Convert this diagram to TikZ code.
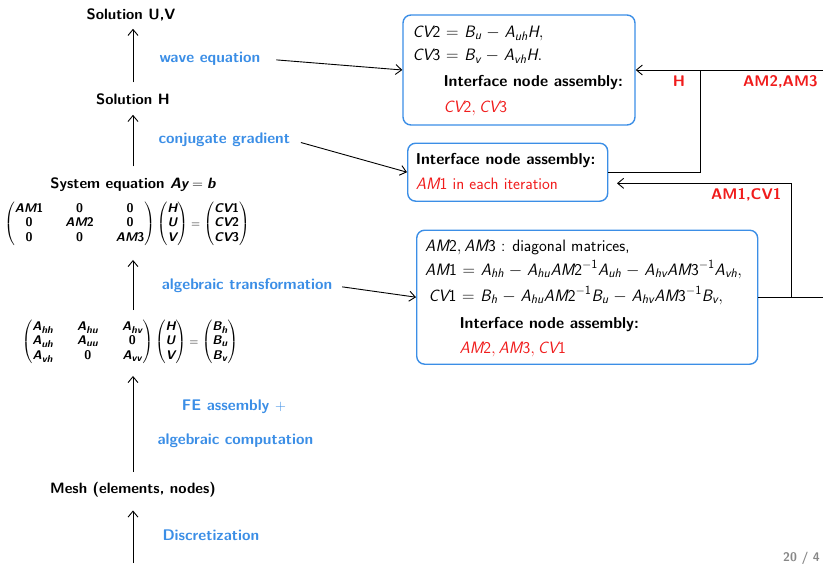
\documentclass[tikz,border=0pt]{standalone}
\usepackage{amsmath}
\usetikzlibrary{arrows.meta}
\definecolor{myblue}{RGB}{59,142,230}
\definecolor{myred}{RGB}{240,28,28}
\definecolor{mygray}{RGB}{135,135,135}
\DeclareMathSizes{16.5}{16.5}{12.5}{9.5}
\DeclareMathSizes{12.6}{12.6}{10}{8}
\newcommand\si[1]{\text{\sffamily\itshape #1}}
\newcommand\su[1]{\text{\sffamily\upshape #1}}
\newcommand\widemath{\thickmuskip=6mu plus 2mu\medmuskip=5mu plus 2mu minus 4mu}
\tikzset{
  lbl/.style={font=\fontsize{15}{18}\selectfont\sffamily\bfseries, inner sep=0pt, anchor=base},
  blab/.style={font=\fontsize{15.4}{18}\selectfont\sffamily\bfseries, text=myblue, inner sep=0pt, anchor=base west},
  mat/.style={font=\fontsize{12.6}{14.5}\selectfont\sffamily\bfseries, inner sep=0pt},
  arr/.style={-{Straight Barb[length=6pt,width=10pt]}, line width=0.9pt},
  conn/.style={line width=0.9pt},
  box/.style={draw=myblue, line width=1.4pt, rounded corners=8pt, inner sep=0pt},
  btxt/.style={font=\fontsize{16.5}{19}\selectfont\sffamily\widemath, anchor=base west, inner sep=0pt},
  bbold/.style={btxt, font=\fontsize{15.8}{18}\selectfont\sffamily\bfseries},
  rtxt/.style={btxt, text=myred},
  rlab/.style={font=\fontsize{15.4}{18}\selectfont\sffamily\bfseries, text=myred, anchor=base west, inner sep=0pt},
}
\begin{document}
\begin{tikzpicture}[x=1pt,y=-1pt]
\useasboundingbox (0,0) rectangle (823,563);
% left column
\node[lbl] (suv) at (131,19) {Solution U,V};
\node[lbl] (sh) at (133,104.3) {Solution H};
\node[lbl] (se) at (133,188.3) {System equation $\si{Ay} = \si{b}$};
\node[mat] (m1) at (127,224) {\setlength{\arraycolsep}{11pt}$\begin{pmatrix} \si{AM}\su{1} & \su{0} & \su{0}\\ \su{0} & \si{AM}\su{2} & \su{0}\\ \su{0} & \su{0} & \si{AM}\su{3}\end{pmatrix}\begin{pmatrix}\si{H}\\ \si{U}\\ \si{V}\end{pmatrix} = \begin{pmatrix}\si{CV}\su{1}\\ \si{CV}\su{2}\\ \si{CV}\su{3}\end{pmatrix}$};
\node[mat] (m2) at (130,342) {\setlength{\arraycolsep}{12pt}$\begin{pmatrix} \si{A}_{\si{hh}} & \si{A}_{\si{hu}} & \si{A}_{\si{hv}}\\ \si{A}_{\si{uh}} & \si{A}_{\si{uu}} & \su{0}\\ \si{A}_{\si{vh}} & \su{0} & \si{A}_{\si{vv}}\end{pmatrix}\setlength{\arraycolsep}{7pt}\begin{pmatrix}\si{H}\\ \si{U}\\ \si{V}\end{pmatrix} = \begin{pmatrix}\si{B}_{\si{h}}\\ \si{B}_{\si{u}}\\ \si{B}_{\si{v}}\end{pmatrix}$};
\node[lbl] (mesh) at (133,493.5) {Mesh (elements, nodes)};
\coordinate (bot) at (133,563);
% blue labels
\node[blab] (we) at (159.3,62.3) {wave equation};
\node[blab] (cg) at (158.3,143.3) {conjugate gradient};
\node[blab] (at) at (161.7,289.3) {algebraic transformation};
\node[blab] (fe) at (181.7,410) {FE assembly $+$};
\node[blab] (ac) at (157.3,444.3) {algebraic computation};
\node[blab] (di) at (162.3,540) {Discretization};
% vertical arrows
\draw[arr, shorten <=11pt, shorten >=8pt] (sh.north) -- (sh.north |- suv.south);
\draw[arr, shorten <=11pt, shorten >=10pt] (se.north) -- (sh.south);
\draw[arr, shorten <=10pt, shorten >=14pt] (m2.north -| sh) -- (m1.south -| sh);
\draw[arr, shorten <=10pt, shorten >=12pt] (mesh.north) -- (m2.south -| mesh);
\draw[arr, shorten >=13pt] (bot) -- (mesh.south);
% boxes
\node[box, minimum width=232pt, minimum height=110pt] (b1) at (519,70) {};
\node[box, minimum width=200pt, minimum height=58pt] (b2) at (507.7,172.2) {};
\node[box, minimum width=341pt, minimum height=134pt] (b3) at (587.2,297.2) {};
% box 1 text
\node[btxt] (b1a) at (412.3,37.3) {$\si{CV}\su{2} = \si{B}_{\si{u}} - \si{A}_{\si{uh}}\si{H},$};
\node[btxt] (b1b) at (412.3,60.7) {$\si{CV}\su{3} = \si{B}_{\si{v}} - \si{A}_{\si{vh}}\si{H}.$};
\node[bbold] (b1c) at (443.3,86.7) {Interface node assembly:};
\node[rtxt] (b1d) at (443.3,112.7) {$\si{CV}\su{2}, \si{CV}\su{3}$};
% box 2 text
\node[bbold] (b2a) at (415.7,164.3) {Interface node assembly:};
\node[rtxt] (b2b) at (415.7,189.3) {$\si{AM}\su{1}$ in each iteration};
% box 3 text
\node[btxt] (b3a) at (425,251) {$\si{AM}\su{2}, \si{AM}\su{3}$ : diagonal matrices,};
\node[btxt] (b3b) at (425,275) {$\si{AM}\su{1} = \si{A}_{\si{hh}} - \si{A}_{\si{hu}}\si{AM}\su{2}^{-\su{1}}\si{A}_{\si{uh}} - \si{A}_{\si{hv}}\si{AM}\su{3}^{-\su{1}}\si{A}_{\si{vh}},$};
\node[btxt] (b3c) at (428.3,301) {$\si{CV}\su{1} = \si{B}_{\si{h}} - \si{A}_{\si{hu}}\si{AM}\su{2}^{-\su{1}}\si{B}_{\si{u}} - \si{A}_{\si{hv}}\si{AM}\su{3}^{-\su{1}}\si{B}_{\si{v}},$};
\node[bbold] (b3d) at (459.3,328.3) {Interface node assembly:};
\node[rtxt] (b3e) at (459.3,353.3) {$\si{AM}\su{2}, \si{AM}\su{3}, \si{CV}\su{1}$};
% diagonal arrows
\draw[arr, shorten <=16pt] (we.east) -- (b1.west);
\draw[arr, shorten <=11pt] (cg.east) -- (b2.west);
\draw[arr, shorten <=10pt] (at.east) -- (b3.west);
% right connectors
\coordinate (r1) at (823,70);
\coordinate (jH) at (700,70);
\coordinate (r2) at (823,297.2);
\coordinate (j2) at (791,297.2);
\coordinate (b2in) at (617,183.3);
\draw[arr] (r1) -- (b1.east);
\draw[conn] (b2.east) -| (jH);
\draw[conn] (b3.east) -- (r2);
\draw[arr] (j2) |- (b2in);
\node[rlab] (lH) at (672.7,86) {H};
\node[rlab] (lA23) at (743,86) {AM2,AM3};
\node[rlab] (lA1) at (711,199) {AM1,CV1};
% page number
\node[font=\fontsize{12.5}{14}\selectfont\sffamily\bfseries, text=mygray, anchor=base west, inner sep=0pt] (pg) at (783,561) {20 / 4};
\end{tikzpicture}
\end{document}
